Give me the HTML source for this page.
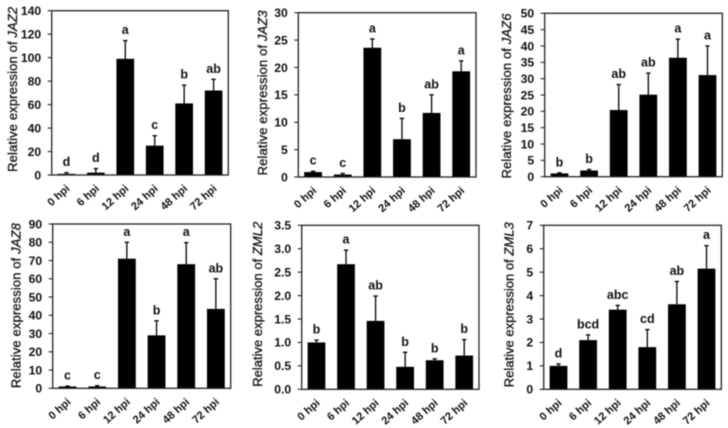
<!DOCTYPE html>
<html>
<head>
<meta charset="utf-8">
<title>Relative expression charts</title>
<style>
html,body{margin:0;padding:0;background:#fff;width:728px;height:428px;overflow:hidden}
svg{display:block;filter:blur(0.4px)}
text{font-family:"Liberation Sans",sans-serif;fill:#111}
</style>
</head>
<body>
<svg id="figure" width="728" height="428" viewBox="0 0 728 428" xmlns="http://www.w3.org/2000/svg"></svg>
<script>
const categories = ["0 hpi","6 hpi","12 hpi","24 hpi","48 hpi","72 hpi"];

const jaz2Values = [1,2,99,25,61,72];
const jaz2Upper = [2,5.5,114.5,33.5,76.5,81.5];
const jaz2Letters = ["d","d","a","c","b","ab"];
const jaz2Ticks = ["0","20","40","60","80","100","120","140"];

const jaz3Values = [0.9,0.45,23.6,6.9,11.7,19.3];
const jaz3Upper = [1.05,0.65,25.2,10.7,15,21.2];
const jaz3Letters = ["c","c","a","b","ab","a"];
const jaz3Ticks = ["0","5","10","15","20","25","30"];

const jaz6Values = [1,1.9,20.4,25.1,36.4,31.1];
const jaz6Upper = [1.2,2.2,28.2,31.7,42.1,40];
const jaz6Letters = ["b","b","ab","ab","a","a"];
const jaz6Ticks = ["0","5","10","15","20","25","30","35","40","45","50"];

const jaz8Values = [1,1,71,29,68,43.5];
const jaz8Upper = [1.2,1.4,80,37,79.8,60];
const jaz8Letters = ["c","c","a","b","a","ab"];
const jaz8Ticks = ["0","10","20","30","40","50","60","70","80","90"];

const zml2Values = [1,2.67,1.46,0.48,0.62,0.72];
const zml2Upper = [1.05,2.97,1.99,0.79,0.65,1.06];
const zml2Letters = ["b","a","ab","b","b","b"];
const zml2Ticks = ["0.0","0.5","1.0","1.5","2.0","2.5","3.0","3.5"];

const zml3Values = [1,2.1,3.4,1.8,3.63,5.15];
const zml3Upper = [1.08,2.32,3.58,2.55,4.6,6.13];
const zml3Letters = ["d","bcd","abc","cd","ab","a"];
const zml3Ticks = ["0","1","2","3","4","5","6","7"];

const NS = "http://www.w3.org/2000/svg";
const figure = document.getElementById("figure");

function make(parent, tag, attrs, text) {
  const el = document.createElementNS(NS, tag);
  for (const k in attrs) el.setAttribute(k, attrs[k]);
  if (text !== undefined) el.textContent = text;
  parent.appendChild(el);
  return el;
}

function drawChart(gene, box, values, upper, letters, ticks) {
  const slug = gene.toLowerCase();
  const g = make(figure, "g", {});
  
  

  const yMax = Number(ticks[ticks.length - 1]);
  const yScale = v => box.bottom - (v / yMax) * (box.bottom - box.top);
  const band = (box.right - box.left) / categories.length;
  const xScale = i => box.left + band * (i + 0.5);
  const barWidth = band * 0.6;

  values.forEach((v, i) => {
    const cx = xScale(i);
    const bar = make(g, "rect", {x: cx - barWidth / 2, y: yScale(v), width: barWidth, height: box.bottom - yScale(v), fill: "#000"});
    
    

    const stem = make(g, "line", {x1: cx, x2: cx, y1: yScale(v), y2: yScale(upper[i]), stroke: "#000", "stroke-width": 1.3});
    
    

    const cap = make(g, "line", {x1: cx - 2.2, x2: cx + 2.2, y1: yScale(upper[i]), y2: yScale(upper[i]), stroke: "#000", "stroke-width": 1.3});
    
    

    const letter = make(g, "text", {x: cx, y: yScale(upper[i]) - 6.5, "text-anchor": "middle", "font-size": 12.5, "font-weight": "bold"}, letters[i]);
    
    

    const px = cx + 4, py = box.bottom + 14.5;
    const label = make(g, "text", {x: px, y: py, "text-anchor": "end", "font-size": 11, "font-weight": "bold", transform: "rotate(-42 " + px + " " + py + ")"}, categories[i]);
    
    
  });

  const frame = make(g, "rect", {x: box.left, y: box.top, width: box.right - box.left, height: box.bottom - box.top, fill: "none", stroke: "#222", "stroke-width": 1.3});
  
  

  ticks.forEach(t => {
    const y = yScale(Number(t));
    const tick = make(g, "line", {x1: box.left - 4, x2: box.left, y1: y, y2: y, stroke: "#222", "stroke-width": 1.1});
    
    

    const label = make(g, "text", {x: box.left - 10.5, y: y + 4.3, "text-anchor": "end", "font-size": 12.2, "font-weight": "bold"}, t);
    
    
  });

  const cy = (box.top + box.bottom) / 2 + box.titleShift;
  const title = make(g, "text", {x: box.titleX, y: cy, "text-anchor": "middle", "font-size": 13, stroke: "#111", "stroke-width": 0.3, textLength: 165, lengthAdjust: "spacing", transform: "rotate(-90 " + box.titleX + " " + cy + ")"});
  
  
  make(title, "tspan", {}, "Relative expression of ");
  make(title, "tspan", {"font-style": "italic"}, gene);
}

drawChart("JAZ2", {left: 51.7, right: 228.3, top: 10.7, bottom: 175, titleX: 17, titleShift: -3.5}, jaz2Values, jaz2Upper, jaz2Letters, jaz2Ticks);
drawChart("JAZ3", {left: 298.3, right: 476, top: 12.7, bottom: 177, titleX: 267, titleShift: -2}, jaz3Values, jaz3Upper, jaz3Letters, jaz3Ticks);
drawChart("JAZ6", {left: 544.7, right: 722.3, top: 13.3, bottom: 176.7, titleX: 511, titleShift: 1}, jaz6Values, jaz6Upper, jaz6Letters, jaz6Ticks);
drawChart("JAZ8", {left: 52.7, right: 230.7, top: 224, bottom: 388.3, titleX: 20.5, titleShift: -0.5}, jaz8Values, jaz8Upper, jaz8Letters, jaz8Ticks);
drawChart("ZML2", {left: 301.7, right: 479, top: 225.3, bottom: 389.3, titleX: 262, titleShift: -3}, zml2Values, zml2Upper, zml2Letters, zml2Ticks);
drawChart("ZML3", {left: 543.7, right: 721.3, top: 225.3, bottom: 389.3, titleX: 513.5, titleShift: -2.5}, zml3Values, zml3Upper, zml3Letters, zml3Ticks);
</script>
</body>
</html>
